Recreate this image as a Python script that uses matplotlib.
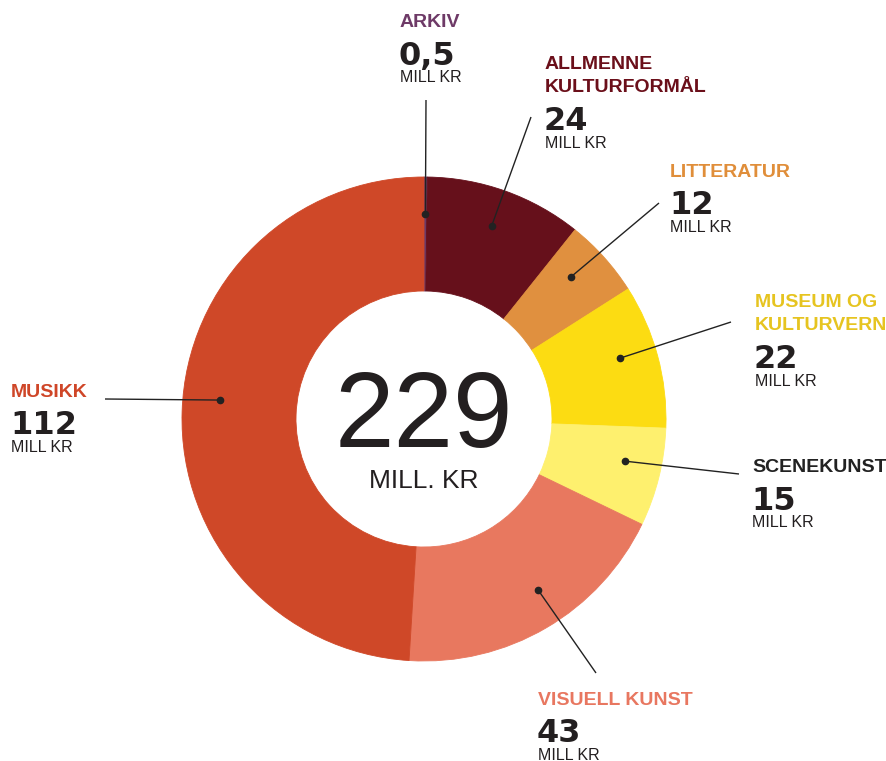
import numpy as np
import matplotlib.pyplot as plt

plt.rcParams['font.family'] = ['Liberation Sans', 'DejaVu Sans']

# Kulturbudsjett fordelt på formål (mill kr)
kategorier = ['ARKIV', 'ALLMENNE\nKULTURFORMÅL', 'LITTERATUR', 'MUSEUM OG\nKULTURVERN',
              'SCENEKUNST', 'VISUELL KUNST', 'MUSIKK']
verdier = [0.5, 24, 12, 22, 15, 43, 112]
verdi_tekst = ['0,5', '24', '12', '22', '15', '43', '112']
total_tekst = '229'
enhet = 'MILL KR'

farger = ['#6b3a68', '#66101b', '#e0903f', '#fcdc12', '#fef06e', '#e8785f', '#cf4828']
tekstfarger = ['#6e3a67', '#6b0f1a', '#e08e3a', '#e6c420', '#222222', '#e87760', '#cf4628']

W, H = 886, 761
# etikettplassering i pikselkoordinater (x, grunnlinje for første linje)
etikett_pos = [(400, 27), (545, 69), (670, 177), (755, 307), (752, 472), (538, 705), (11, 397)]
# ytre ende av hver strek
strek_ende = [(426, 100), (531, 117), (659, 203), (731, 322), (739, 474), (596, 673), (105, 399)]
# hvor langt inn i kilen (med klokka) prikken sitter
prikk_andel = [0.5, 0.49, 0.39, 0.44, 0.41, 0.45, 0.52]

sentrum = (424, H - 419)
R = 242
bredde = 114
prikk_r = 205


def py(y):
    return H - y


fig = plt.figure(figsize=(W / 100, H / 100), dpi=100)
ax = fig.add_axes([0, 0, 1, 1])

kiler, _ = ax.pie(verdier, colors=farger, startangle=90, counterclock=False,
                  center=sentrum, radius=R, wedgeprops=dict(width=bredde, linewidth=0))
for k, f in zip(kiler, farger):
    k.set_edgecolor(f)
    k.set_linewidth(0.6)

# tekst i midten
ax.text(sentrum[0], py(447), total_tekst, ha='center', va='baseline', fontsize=77,
        color='#231f20')
ax.text(sentrum[0], py(488), 'MILL. KR', ha='center', va='baseline', fontsize=19,
        color='#231f20')

total = sum(verdier)
kum = np.cumsum([0] + verdier)
for i, navn in enumerate(kategorier):
    vinkel = 90 - (kum[i] + verdier[i] * prikk_andel[i]) / total * 360
    a = np.deg2rad(vinkel)
    px_ = sentrum[0] + prikk_r * np.cos(a)
    py_ = sentrum[1] + prikk_r * np.sin(a)
    ex, ey = strek_ende[i]
    ax.plot([px_, ex], [py_, py(ey)], color='#222222', lw=1.0, solid_capstyle='butt')
    ax.plot(px_, py_, 'o', color='#222222', ms=4.5)

    x, y = etikett_pos[i]
    linjer = navn.split('\n')
    for j, l in enumerate(linjer):
        ax.text(x, py(y + 23.5 * j), l, ha='left', va='baseline', fontsize=14,
                fontweight='bold', color=tekstfarger[i])
    siste = y + 23.5 * (len(linjer) - 1)
    ax.text(x - 1, py(siste + 37.5), verdi_tekst[i], ha='left', va='baseline', fontsize=23,
            fontweight='bold', family='DejaVu Sans', color='#231f20')
    ax.text(x, py(siste + 55), enhet, ha='left', va='baseline', fontsize=11.5,
            color='#231f20')

ax.set_xlim(0, W)
ax.set_ylim(0, H)
ax.set_aspect('equal')
ax.axis('off')
fig.savefig('out.png', dpi=100, facecolor='white')
